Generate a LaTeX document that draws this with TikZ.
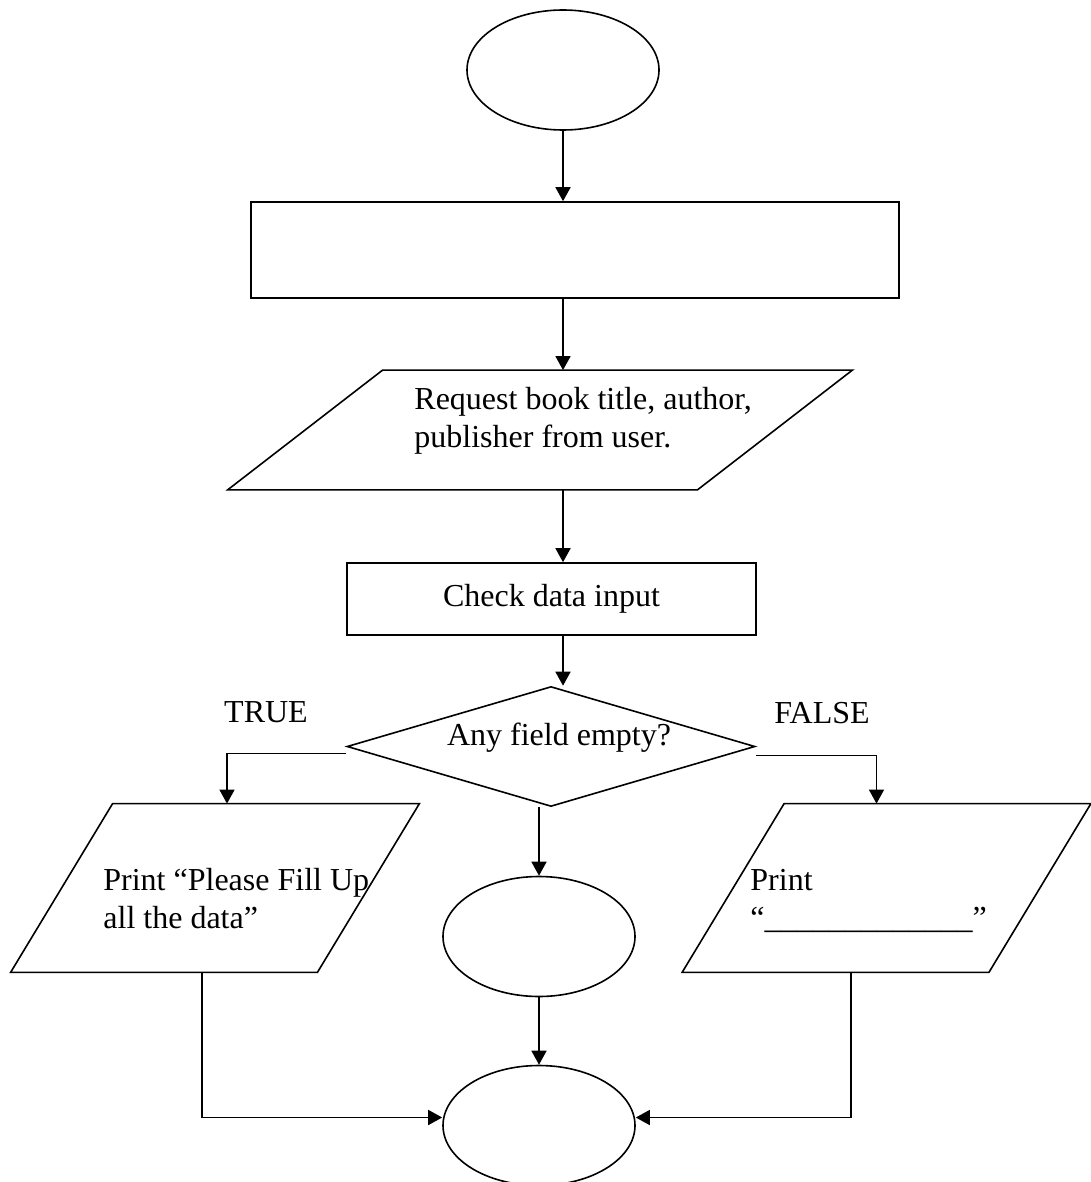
\documentclass[tikz,border=0pt]{standalone}
\usepackage{fontspec}
\setmainfont{Liberation Serif}
\usetikzlibrary{shapes.geometric,arrows.meta}
\tikzset{
terminal/.style={draw,ellipse,line width=0.8pt,inner sep=0pt,minimum width=96pt,minimum height=60pt},
block/.style={draw,line width=0.8pt,inner sep=0pt},
io/.style={inner sep=0pt},
outline/.style={line width=0.8pt,line join=miter},
decision/.style={draw,diamond,aspect=3.4,line width=0.8pt,inner sep=0pt,minimum width=204pt,minimum height=60pt},
txt/.style={anchor=base west,align=left,inner sep=0pt},
line/.style={line width=0.8pt,-{Triangle[length=7pt,width=7.5pt]}},
font={\fontsize{16pt}{19pt}\selectfont}
}
\begin{document}
\begin{tikzpicture}[x=0.5pt,y=-0.5pt]
  \useasboundingbox (0,0) rectangle (1091,1182);
  \node[terminal] (start) at (563,70) {};
  \node[block,minimum width=324pt,minimum height=48pt] (proc) at (575,250) {};
  \node[io,minimum width=312pt,minimum height=59.5pt] (req) at (540,430) {};
  \draw[outline] (req.south west) -- ([xshift=-77.5pt] req.south east) -- (req.north east) -- ([xshift=77.5pt] req.north west) -- cycle;
  \node[txt] (reqtext) at (414,447) {Request book title, author,\\publisher from user.};
  \node[block,minimum width=204.5pt,minimum height=36pt] (check) at (551.5,599) {Check data input};
  \node[decision,label={[xshift=4pt,yshift=4.5pt]center:Any field empty?}] (empty) at (551,746.5) {};
  \node (true) at (266,712) {TRUE};
  \node (false) at (822,713) {FALSE};
  \node[io,minimum width=204pt,minimum height=84pt] (fill) at (215,888) {};
  \draw[outline] (fill.south west) -- ([xshift=-51pt] fill.south east) -- (fill.north east) -- ([xshift=51pt] fill.north west) -- cycle;
  \node[txt] (filltext) at (103,928) {Print “Please Fill Up\\all the data”};
  \node[io,minimum width=204pt,minimum height=84pt] (blank) at (886.5,888) {};
  \draw[outline] (blank.south west) -- ([xshift=-51pt] blank.south east) -- (blank.north east) -- ([xshift=51pt] blank.north west) -- cycle;
  \node[txt] (blanktext) at (750,928) {Print\\“\_\_\_\_\_\_\_\_\_\_\_\_\_”};
  \node[terminal] (mid) at (539,936.5) {};
  \node[terminal] (stop) at (539,1125.5) {};
  \draw[line] (start.south) -- (proc.north -| start.south);
  \draw[line] (proc.south -| start.south) -- (req.north -| start.south);
  \draw[line] (req.south -| start.south) -- (check.north -| start.south);
  \draw[line] (check.south -| start.south) -- (empty.north -| start.south);
  \draw[line] ([yshift=-3.5pt] empty.west) -| ([xshift=6pt] fill.north);
  \draw[line] ([yshift=-4.5pt] empty.east) -| ([xshift=-5pt] blank.north);
  \draw[line] (empty.south -| mid.north) -- (mid.north);
  \draw[line] (mid) -- (stop);
  \draw[line] ([xshift=-6.5pt] fill.south) |- ([yshift=4pt] stop.west);
  \draw[line] ([xshift=-17.75pt] blank.south) |- ([yshift=4pt] stop.east);
\end{tikzpicture}
\end{document}
